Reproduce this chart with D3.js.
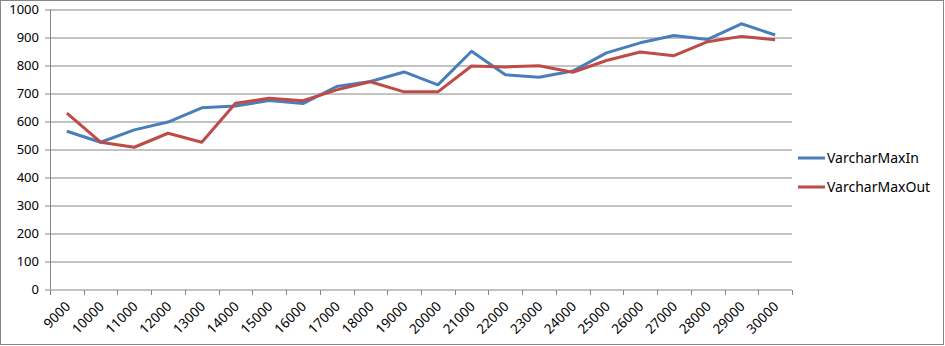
<!DOCTYPE html>
<html>
<head>
<meta charset="utf-8">
<script src="https://cdn.jsdelivr.net/npm/d3@7"></script>
<style>
    body { margin: 0; background: #fff; }
    text { font-family: "Noto Sans", sans-serif; fill: #000; }
</style>
</head>
<body>
<div id="chart"></div>
<script>
var categories = ["9000", "10000", "11000", "12000", "13000", "14000", "15000", "16000", "17000", "18000", "19000",
    "20000", "21000", "22000", "23000", "24000", "25000", "26000", "27000", "28000", "29000", "30000"];
var varcharMaxIn = [565, 526, 570, 598, 649, 655, 675, 664, 725, 743, 777,
    731, 851, 767, 758, 780, 845, 881, 907, 893, 949, 909];
var varcharMaxOut = [630, 526, 508, 558, 526, 665, 683, 674, 713, 742, 706,
    706, 798, 795, 799, 776, 818, 848, 835, 885, 904, 892];
var yTicks = [0, 100, 200, 300, 400, 500, 600, 700, 800, 900, 1000];
var seriesNames = ["VarcharMaxIn", "VarcharMaxOut"];
var seriesColors = ["#4A7EBB", "#BE4B48"];

var width = 945, height = 346;
var margin = {left: 50, top: 9.5, right: 153, bottom: 56.5};
var plotW = width - margin.left - margin.right;
var plotH = height - margin.top - margin.bottom;

var svg = d3.select("#chart").append("svg")
    .attr("width", width)
    .attr("height", height);

// rahmen um das ganze diagramm
svg.append("rect")
    .attr("x", 0.5).attr("y", 0.5)
    .attr("width", width - 2).attr("height", height - 2)
    .style("fill", "none")
    .style("stroke", "#868686");

var g = svg.append("g")
    .attr("transform", "translate(" + margin.left + "," + margin.top + ")");

var x = d3.scaleBand()
    .domain(categories)
    .range([0, plotW]);

var y = d3.scaleLinear()
    .domain([0, 1000])
    .range([plotH, 0]);

// gitterlinien
g.selectAll("line.grid")
    .data(yTicks.slice(1))
    .enter()
    .append("line")
    .attr("class", "grid")
    .attr("x1", 0).attr("x2", plotW)
    .attr("y1", function (d) { return Math.round(y(d)) + 0.5; })
    .attr("y2", function (d) { return Math.round(y(d)) + 0.5; })
    .style("stroke", "#868686");

// y-achse
var yAxis = g.append("g")
    .call(d3.axisLeft(y).tickValues(yTicks).tickFormat(d3.format("d")).tickSize(5).tickPadding(6));
yAxis.selectAll("path, line").style("stroke", "#868686");
yAxis.select(".domain").attr("d", "M0.5," + plotH + "V0");
yAxis.selectAll("text").style("font-size", "13px").style("font-family", "Noto Sans");

// x-achse: ticks an den bandgrenzen
var xa = g.append("g")
    .attr("transform", "translate(0," + (Math.round(plotH) + 0.5) + ")");
xa.append("line")
    .attr("x1", 0).attr("x2", plotW)
    .style("stroke", "#868686");
xa.selectAll("line.tick")
    .data(categories.concat(["end"]))
    .enter()
    .append("line")
    .attr("class", "tick")
    .attr("x1", function (d, i) { return Math.round(i * x.step()) + 0.5; })
    .attr("x2", function (d, i) { return Math.round(i * x.step()) + 0.5; })
    .attr("y1", 0).attr("y2", 5)
    .style("stroke", "#868686");
xa.selectAll("text")
    .data(categories)
    .enter()
    .append("text")
    .attr("transform", function (d) {
        return "translate(" + (x(d) + x.bandwidth() / 2 + 1) + ",14) rotate(-45)";
    })
    .attr("text-anchor", "end")
    .attr("dy", "0.35em")
    .style("font-size", "13.5px")
    .text(function (d) { return d; });

// linien
var line = d3.line()
    .x(function (d, i) { return x(categories[i]) + x.bandwidth() / 2; })
    .y(function (d) { return y(d); });

[varcharMaxIn, varcharMaxOut].forEach(function (values, k) {
    g.append("path")
        .datum(values)
        .attr("d", line)
        .style("fill", "none")
        .style("stroke", seriesColors[k])
        .style("stroke-width", 3)
        .style("stroke-linejoin", "round");
});

// legende
var legend = svg.selectAll("g.legend")
    .data(seriesNames)
    .enter()
    .append("g")
    .attr("class", "legend")
    .attr("transform", function (d, i) { return "translate(798," + (158 + i * 29) + ")"; });
legend.append("line")
    .attr("x1", 0).attr("x2", 27)
    .style("stroke", function (d, i) { return seriesColors[i]; })
    .style("stroke-width", 3);
legend.append("text")
    .attr("x", 29)
    .attr("dy", "0.35em")
    .style("font-size", "14px")
    .text(function (d) { return d; });
</script>
</body>
</html>
